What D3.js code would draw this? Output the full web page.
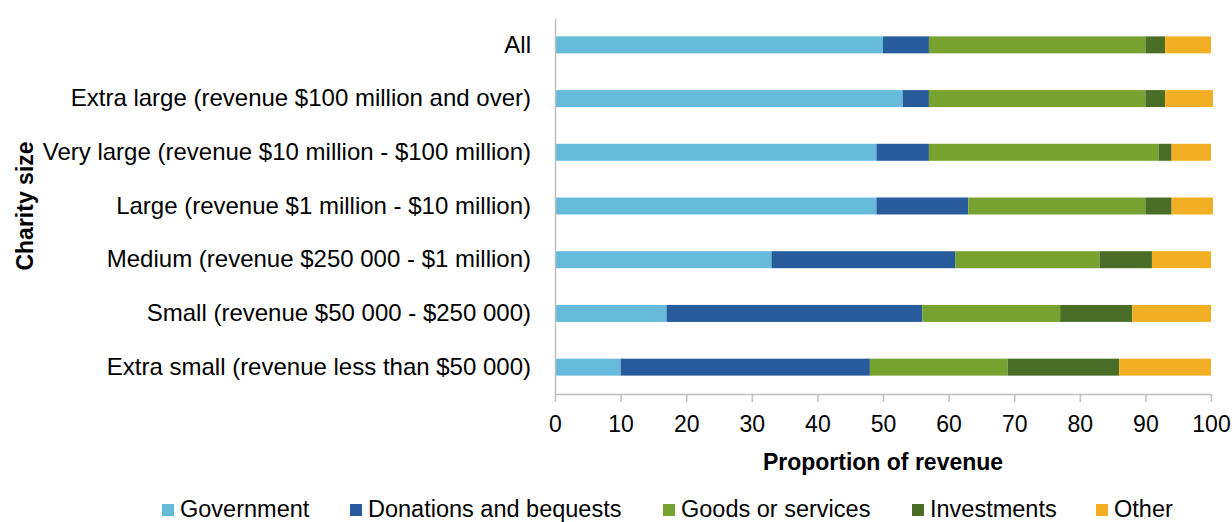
<!DOCTYPE html>
<html>
<head>
<meta charset="utf-8">
<script src="https://cdn.jsdelivr.net/npm/d3@7"></script>
<style>
  body { margin: 0; background: #fff; }
  text { font-family: "Liberation Sans", Arial, sans-serif; fill: #000; }
  .title { font-weight: bold; }
</style>
</head>
<body>
<svg width="1232" height="522"></svg>
<script>
// categories, top to bottom
var categories = [
  "All",
  "Extra large (revenue $100 million and over)",
  "Very large (revenue $10 million - $100 million)",
  "Large (revenue $1 million - $10 million)",
  "Medium (revenue $250 000 - $1 million)",
  "Small (revenue $50 000 - $250 000)",
  "Extra small (revenue less than $50 000)"
];
var seriesNames = ["Government", "Donations and bequests", "Goods or services", "Investments", "Other"];
var government  = [50, 53, 49, 49, 33, 17, 10];
var donations   = [7, 4, 8, 14, 28, 39, 38];
var goods       = [33, 33, 35, 27, 22, 21, 21];
var investments = [3, 3, 2, 4, 8, 11, 17];
var other       = [7, 7.3, 6, 6.3, 9, 12, 14];
var xTicks = [0, 10, 20, 30, 40, 50, 60, 70, 80, 90, 100];

function main() {
  var svg = d3.select('svg'),
    left = 555, right = 1211, top = 18, bottom = 394;

  var color = d3.scaleOrdinal(seriesNames, ['#66bbdb', '#275b9b', '#78a22f', '#4a6e27', '#f3af24']);

  // build rows for stacking
  var rows = categories.map(function(c, i) {
    return {
      cat: c,
      "Government": government[i],
      "Donations and bequests": donations[i],
      "Goods or services": goods[i],
      "Investments": investments[i],
      "Other": other[i]
    };
  });
  var stacked = d3.stack().keys(seriesNames)(rows);

  var x = d3.scaleLinear().domain([0, 100]).range([left, right]);
  var y = d3.scaleBand().domain(categories).range([top, bottom])
    .paddingInner(0.684).paddingOuter(0.342);

  // bars
  svg.append('g').selectAll('g')
    .data(stacked)
    .enter().append('g')
    .attr('fill', function(d) { return color(d.key); })
    .selectAll('rect')
    .data(function(d) { return d; })
    .enter().append('rect')
    .attr('x', function(d) { return x(d[0]); })
    .attr('width', function(d) { return x(d[1]) - x(d[0]); })
    .attr('y', function(d) { return y(d.data.cat); })
    .attr('height', y.bandwidth());

  // x axis
  var xAxis = svg.append('g')
    .attr('transform', 'translate(0,' + bottom + ')')
    .call(d3.axisBottom(x).tickValues(xTicks).tickSize(8).tickPadding(14).tickSizeOuter(0));
  xAxis.select('.domain').attr('stroke', '#bfbfbf').attr('stroke-width', 1.5);
  xAxis.selectAll('.tick line').attr('stroke', '#bfbfbf').attr('stroke-width', 1.5);
  xAxis.selectAll('.tick text').attr('font-size', 23).attr('font-family', '"Liberation Sans", Arial, sans-serif').attr('fill', '#000');

  // y axis
  var yAxis = svg.append('g')
    .attr('transform', 'translate(' + left + ',0)')
    .call(d3.axisLeft(y).tickSize(0).tickPadding(24));
  yAxis.select('.domain').attr('stroke', '#bfbfbf').attr('stroke-width', 1.5);
  yAxis.selectAll('.tick text').attr('font-size', 24).attr('font-family', '"Liberation Sans", Arial, sans-serif').attr('fill', '#000');

  // axis titles
  svg.append('text')
    .attr('class', 'title')
    .attr('x', (left + right) / 2)
    .attr('y', 470)
    .attr('text-anchor', 'middle')
    .attr('font-size', 23)
    .text('Proportion of revenue');

  svg.append('text')
    .attr('class', 'title')
    .attr('transform', 'translate(33,' + (top + bottom) / 2 + ') rotate(-90)')
    .attr('text-anchor', 'middle')
    .attr('font-size', 23)
    .text('Charity size');

  // legend
  var legendX = [162, 350, 663, 912, 1096];
  var lg = svg.append('g').selectAll('g')
    .data(seriesNames)
    .enter().append('g')
    .attr('transform', function(d, i) { return 'translate(' + legendX[i] + ',504)'; });
  lg.append('rect')
    .attr('width', 12).attr('height', 12)
    .attr('fill', function(d) { return color(d); });
  lg.append('text')
    .attr('x', 18)
    .attr('y', 12.5)
    .attr('font-size', 23.5)
    .text(function(d) { return d; });
}
main();
</script>
</body>
</html>
